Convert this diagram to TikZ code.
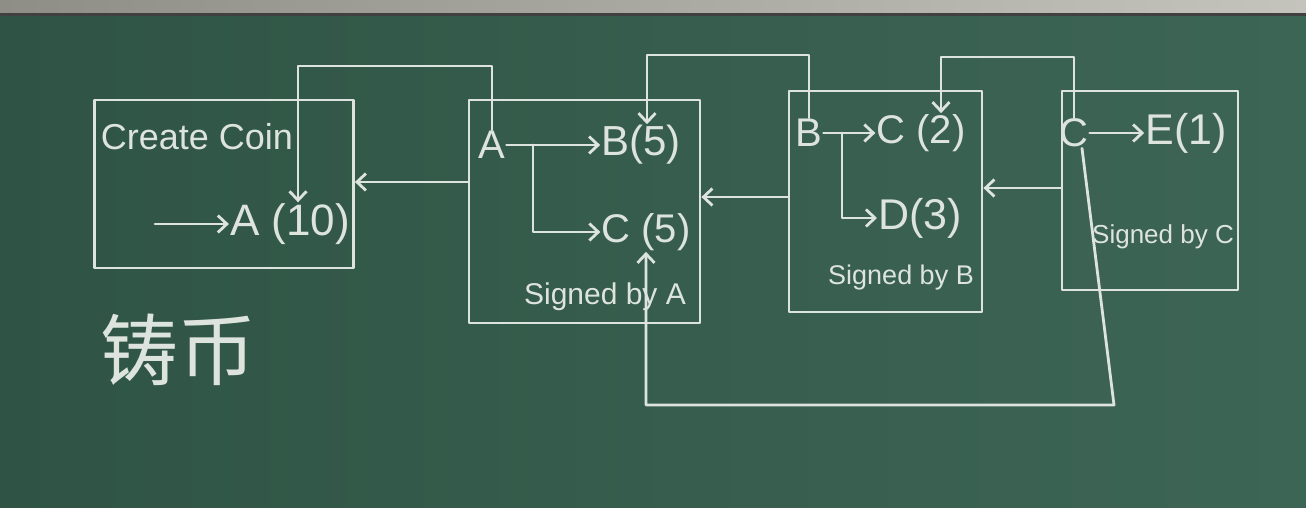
\documentclass[tikz,border=0pt]{standalone}
\usepackage{fontspec}
\setmainfont{Liberation Sans}
\newfontfamily\cjk{Noto Sans CJK SC}
\usetikzlibrary{positioning, arrows.meta}
\definecolor{boardl}{HTML}{2F5445}
\definecolor{boardr}{HTML}{3D6555}
\definecolor{chalk}{HTML}{DDE4DD}
\definecolor{railL}{HTML}{8E8E86}
\definecolor{railR}{HTML}{C4C4BC}

\tikzset{
  chalk/.style={draw=chalk, line width=2.8pt, line cap=round, line join=round},
  chalkarrow/.style={chalk, -{Straight Barb[length=9pt, width=17pt]}},
  blockbox/.style={chalk, rectangle, inner sep=0pt},
  lbl/.style={text=chalk, inner sep=1pt, font=\fontsize{#1}{#1}\selectfont},
}

\begin{document}
\begin{tikzpicture}[x=1pt, y=-1pt]
  % board and rail
  \shade[left color=boardl, right color=boardr] (0,0) rectangle (1306,508);
  \shade[left color=railL, right color=railR] (0,0) rectangle (1306,13);
  \fill[black!75] (0,13) rectangle (1306,16);
  \useasboundingbox (0,0) rectangle (1306,508);

  % blocks
  \node[blockbox, minimum width=259pt, minimum height=168pt] (coin)   at (224,184)   {};
  \node[blockbox, minimum width=231pt, minimum height=223pt] (blockA) at (584.5,211.5) {};
  \node[blockbox, minimum width=193pt, minimum height=221pt] (blockB) at (885.5,201.5) {};
  \node[blockbox, minimum width=176pt, minimum height=199pt] (blockC) at (1150,190.5) {};

  % coin block
  \node[lbl=36] (create) at (197,137) {Create Coin};
  \node[lbl=44] (a10) at (290,224) {A (10)};
  \coordinate (mint) at (155,224);
  \draw[chalkarrow] (mint) -- (a10.west);

  % block signed by A
  \node[lbl=40] (a2) at (492,145) {A};
  \node[lbl=42] (b5) at (641,145) {B(5)};
  \node[lbl=40] (c5) at (646,232) {C (5)};
  \node[lbl=30] (sigA) at (605,297) {Signed by A};
  \coordinate (fork2) at (533,145);
  \draw[chalkarrow] (a2.east) -- (b5.west);
  \draw[chalkarrow] (fork2) |- (c5.west);

  % block signed by B
  \node[lbl=40] (b3) at (809,133) {B};
  \node[lbl=40] (c2) at (921,133) {C (2)};
  \node[lbl=43] (d3) at (920,218) {D(3)};
  \node[lbl=27] (sigB) at (901,278) {Signed by B};
  \coordinate (fork3) at (842,133);
  \draw[chalkarrow] (b3.east) -- (c2.west);
  \draw[chalkarrow] (fork3) |- (d3.west);

  % block signed by C
  \node[lbl=40] (c4) at (1074,133) {C};
  \node[lbl=43] (e1) at (1186,133) {E(1)};
  \node[lbl=26] (sigC) at (1163,237) {Signed by C};
  \draw[chalkarrow] (c4.east) -- (e1.west);

  % chain back to previous blocks
  \draw[chalkarrow] (blockA.west |- 0,182) -- (coin.east |- 0,182);
  \draw[chalkarrow] (blockB.west |- 0,197) -- (blockA.east |- 0,197);
  \draw[chalkarrow] (blockC.west |- 0,188) -- (blockB.east |- 0,188);

  % where each coin came from
  \draw[chalkarrow] (a2.north) -- (a2.north |- 0,66) -| ([xshift=8pt]a10.north);
  \draw[chalkarrow] (b3.north) -- (b3.north |- 0,55) -| ([xshift=6pt]b5.north);
  \draw[chalkarrow] (c4.north) -- (c4.north |- 0,57) -| ([xshift=20pt]c2.north);
  \coordinate (lowturn) at (1114,405);
  \draw[chalkarrow] ([xshift=8pt]c4.south) -- (lowturn) -| (c5.south);

  \node[text=chalk, font=\cjk\fontsize{78}{78}\selectfont] (zhubi) at (178,350) {铸币};
\end{tikzpicture}
\end{document}
